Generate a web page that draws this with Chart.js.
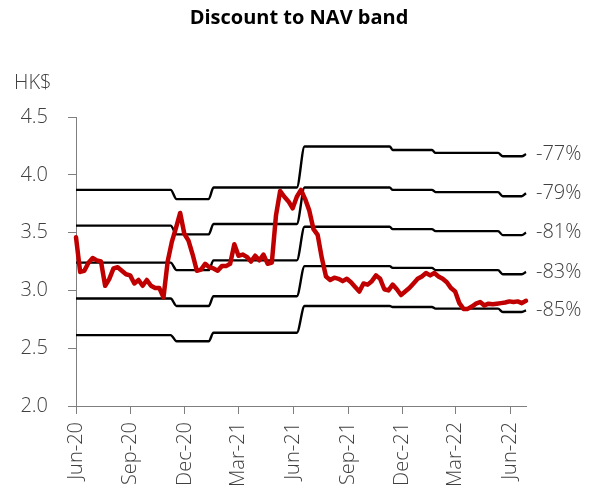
<!DOCTYPE html>
<html>
<head>
<meta charset="utf-8">
<script src="https://cdn.jsdelivr.net/npm/chart.js@4/dist/chart.umd.min.js"></script>
<style>
html,body{margin:0;padding:0;background:#fff;}
#wrap{width:598px;height:493px;}
</style>
</head>
<body>
<div id="wrap"><canvas id="c" width="598" height="493"></canvas></div>
<script>
// ---- Data ----
const titleText = 'Discount to NAV band';
const unitText = 'HK$';
const tickDays = [0, 92, 183, 273, 365, 457, 548, 638, 730];
const tickLabels = ['Jun-20','Sep-20','Dec-20','Mar-21','Jun-21','Sep-21','Dec-21','Mar-22','Jun-22'];
const weekStep = 7; // days between price observations
const price = [
3.46,3.16,3.17,3.24,3.28,3.26,3.25,3.04,3.10,3.19,
3.20,3.17,3.14,3.13,3.06,3.09,3.04,3.09,3.04,3.02,
3.02,2.94,3.25,3.42,3.54,3.67,3.49,3.43,3.31,3.17,
3.18,3.23,3.20,3.19,3.17,3.21,3.21,3.23,3.40,3.30,
3.31,3.29,3.25,3.30,3.26,3.31,3.23,3.24,3.65,3.86,
3.81,3.77,3.71,3.81,3.87,3.79,3.69,3.53,3.48,3.28,
3.12,3.09,3.11,3.10,3.08,3.10,3.07,3.03,2.99,3.06,
3.05,3.08,3.13,3.10,3.01,3.00,3.05,3.01,2.96,2.99,
3.02,3.06,3.10,3.12,3.15,3.13,3.15,3.12,3.10,3.07,
3.02,2.99,2.89,2.84,2.84,2.86,2.885,2.90,2.87,2.885,
2.88,2.885,2.89,2.895,2.905,2.90,2.905,2.89,2.91
];
const bandDays = [0,159,169,223,231,371,384,527,532,598,604,709,717,749,756];
const band77 = [3.87,3.87,3.79,3.79,3.89,3.89,4.245,4.245,4.215,4.215,4.19,4.19,4.16,4.16,4.18];
const band79 = [3.56,3.56,3.485,3.485,3.575,3.575,3.89,3.89,3.87,3.87,3.85,3.85,3.815,3.815,3.84];
const band81 = [3.24,3.24,3.175,3.175,3.26,3.26,3.55,3.55,3.53,3.53,3.513,3.513,3.478,3.478,3.50];
const band83 = [2.93,2.93,2.865,2.865,2.95,2.95,3.21,3.21,3.195,3.195,3.175,3.175,3.14,3.14,3.16];
const band85 = [2.613,2.613,2.56,2.56,2.634,2.634,2.865,2.865,2.856,2.856,2.842,2.842,2.813,2.813,2.827];
const bandLabels = ['-77%','-79%','-81%','-83%','-85%'];
const yTicks = [2.0, 2.5, 3.0, 3.5, 4.0, 4.5];

// ---- Build ----
const FONT = "'Open Sans', 'Liberation Sans', sans-serif";
const TXT = '#404040';
const AXIS = '#7f7f7f';
const bands = [band77, band79, band81, band83, band85];

const priceData = price.map((v, i) => ({x: i * weekStep, y: v}));
const bandSets = bands.map((b, k) => ({
  label: bandLabels[k],
  data: b.map((v, i) => ({x: bandDays[i], y: v})),
  borderColor: '#000000',
  borderWidth: 2.4,
  pointRadius: 0,
  cubicInterpolationMode: 'monotone',
  fill: false,
  clip: false
}));

const overlay = {
  id: 'overlay',
  afterDatasetsDraw(chart) {
    const ctx = chart.ctx;
    const ya = chart.scales.y;
    const area = chart.chartArea;
    ctx.save();
    ctx.fillStyle = TXT;
    ctx.font = '300 20px ' + FONT;
    ctx.textAlign = 'left';
    ctx.textBaseline = 'middle';
    bands.forEach((b, k) => {
      const yp = ya.getPixelForValue(b[b.length - 1]);
      ctx.fillText(bandLabels[k], area.right + 10, yp);
    });
    ctx.textBaseline = 'alphabetic';
    ctx.fillText(unitText, 14, 89);
    ctx.font = 'bold 20px ' + FONT;
    ctx.fillStyle = '#000000';
    ctx.textAlign = 'center';
    ctx.fillText(titleText, 299, 24);
    ctx.restore();
  }
};

new Chart(document.getElementById('c'), {
  type: 'line',
  data: {
    datasets: [{
      label: 'Price',
      data: priceData,
      borderColor: '#C00000',
      borderWidth: 4.5,
      pointRadius: 0,
      tension: 0,
      borderJoinStyle: 'round',
      borderCapStyle: 'round',
      fill: false,
      clip: false
    }].concat(bandSets)
  },
  options: {
    responsive: false,
    animation: false,
    events: [],
    layout: {padding: {top: 117, left: 0, right: 72, bottom: 0}},
    plugins: {legend: {display: false}, title: {display: false}, tooltip: {enabled: false}},
    scales: {
      x: {
        type: 'linear',
        min: 0,
        max: 756,
        afterBuildTicks(s) { s.ticks = tickDays.map(v => ({value: v})); },
        afterFit(s) { s.height = 87; },
        grid: {drawOnChartArea: false, drawTicks: true, tickLength: 8, color: AXIS, lineWidth: 1},
        border: {display: true, color: AXIS, width: 1},
        ticks: {
          autoSkip: false,
          maxRotation: 90,
          minRotation: 90,
          padding: 8,
          color: TXT,
          font: {family: FONT, size: 20, weight: '300'},
          callback(v) { const i = tickDays.indexOf(v); return i >= 0 ? tickLabels[i] : ''; }
        }
      },
      y: {
        min: 2,
        max: 4.5,
        afterBuildTicks(s) { s.ticks = yTicks.map(v => ({value: v})); },
        afterFit(s) { s.width = 76; },
        grid: {drawOnChartArea: false, drawTicks: true, tickLength: 8, color: AXIS, lineWidth: 1},
        border: {display: true, color: AXIS, width: 1},
        ticks: {
          padding: 20,
          color: TXT,
          font: {family: FONT, size: 20, weight: '300'},
          callback(v) { return Number(v).toFixed(1); }
        }
      }
    }
  },
  plugins: [overlay]
});
</script>
</body>
</html>
